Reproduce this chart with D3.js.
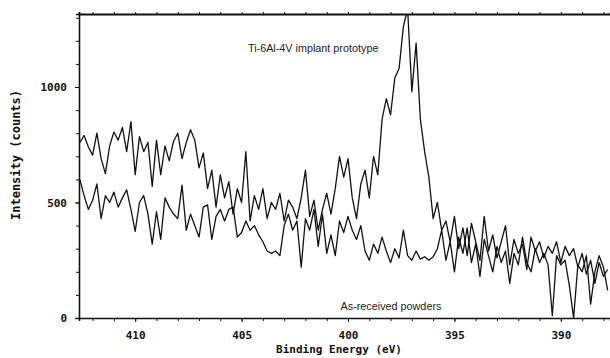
<!DOCTYPE html>
<html>
<head>
<meta charset="utf-8">
<script src="https://cdn.jsdelivr.net/npm/d3@7"></script>
<style>
  body { margin: 0; background: #fff; }
  svg { display: block; }
</style>
</head>
<body>
<div id="viz"></div>
<script>
// binding energy channels: 412.6 eV down to 387.8 eV, 0.2 eV apart
const energyStart = 412.6;
const energyStep = 0.2;

// Ti-6Al-4V implant prototype (counts)
const implantCounts = [
  760, 790, 740, 705, 800, 690, 625, 745, 805, 770, 825, 720, 850, 620, 785, 720,
  760, 570, 770, 620, 745, 680, 765, 800, 690, 760, 815, 770, 650, 715, 560, 640,
  480, 620, 520, 590, 450, 560, 500, 720, 420, 530, 470, 560, 430, 500, 470, 540,
  420, 510, 480, 430, 520, 640, 440, 510, 380, 470, 540, 450, 560, 700, 610, 690,
  520, 430, 580, 640, 520, 700, 620, 860, 950, 880, 1040, 1080, 1260, 1340, 980, 1190,
  860, 720, 610, 430, 500, 380, 420, 330, 440, 300, 390, 270, 410, 330, 250, 440,
  290, 360, 260, 330, 400, 230, 340, 280, 320, 210, 350, 290, 330, 260, 310, 280,
  330, 240, 310, 270, 300, 220, 280, 190, 250, 150, 240, 180, 210
];

// As-received powders (counts)
const powderCounts = [
  600, 530, 470, 510, 580, 430, 530, 500, 545, 480, 520, 555, 470, 375, 500, 530,
  450, 320, 460, 340, 520, 480, 450, 430, 575, 380, 450, 400, 350, 480, 490, 340,
  440, 470, 420, 470, 480, 350, 370, 420, 380, 400, 360, 330, 290, 280, 290, 270,
  400, 450, 380, 420, 220, 430, 380, 470, 310, 450, 280, 360, 270, 420, 370, 440,
  380, 340, 400, 290, 250, 320, 280, 350, 290, 240, 300, 260, 380, 270, 250, 290,
  255, 265, 250, 265, 300, 380, 250, 330, 200, 350, 280, 390, 240, 320, 180, 340,
  270, 200, 310, 240, 290, 150, 280, 230, 350, 240, 200, 300, 240, 280, 230, 10,
  270, 230, 250, 140, 0, 230, 200, 270, 60, 200, 270, 220, 120
];

const xTicks = [410, 405, 400, 395, 390];
const yTicks = [0, 500, 1000];

const labels = [
  { text: "Ti-6Al-4V implant prototype", e: 404.7, v: 1150 },
  { text: "As-received powders", e: 400.35, v: 35 }
];

const width = 610, height = 358;
const margin = { top: 14, right: 0, bottom: 40, left: 79 };

const svg = d3.select("#viz")
  .append("svg")
  .attr("width", width)
  .attr("height", height);

// x is reversed: high binding energy on the left
const x = d3.scaleLinear()
  .domain([412.64, 387.69])
  .range([margin.left, width - margin.right]);

const y = d3.scaleLinear()
  .domain([0, 1316])
  .range([height - margin.bottom, margin.top]);

const energies = implantCounts.map((_, i) => +(energyStart - i * energyStep).toFixed(1));

svg.append("clipPath").attr("id", "plot-clip")
  .append("rect")
  .attr("x", margin.left)
  .attr("y", margin.top)
  .attr("width", width - margin.left - margin.right)
  .attr("height", height - margin.top - margin.bottom);

const line = d3.line()
  .x((d, i) => x(energies[i]))
  .y(d => y(d));

const plot = svg.append("g").attr("clip-path", "url(#plot-clip)");

[implantCounts, powderCounts].forEach(series => {
  plot.append("path")
    .datum(series)
    .attr("fill", "none")
    .attr("stroke", "#111")
    .attr("stroke-width", 1.3)
    .attr("stroke-linejoin", "round")
    .attr("d", line);
});

// minor ticks every 1 eV, and every 100 counts
const xMinor = d3.range(388, 413, 1);
const yMinor = d3.range(0, 1301, 100);

// bottom axis
const xAxis = svg.append("g")
  .attr("transform", `translate(0,${y(0)})`)
  .call(d3.axisBottom(x).tickValues(xMinor).tickSize(3).tickFormat(""));
xAxis.select(".domain").attr("stroke-width", 1.6);
xAxis.selectAll(".tick line").attr("stroke-width", 1);

svg.append("g")
  .attr("transform", `translate(0,${y(0)})`)
  .call(d3.axisBottom(x).tickValues(xTicks).tickSize(4).tickPadding(9).tickFormat(d3.format("d")))
  .call(g => g.select(".domain").remove())
  .call(g => g.selectAll("text")
    .attr("font-family", "DejaVu Sans Mono")
    .attr("font-weight", "bold")
    .attr("font-size", 11)
    .attr("fill", "#111"));

// top frame line with small ticks
const topAxis = svg.append("g")
  .attr("transform", `translate(0,${margin.top})`)
  .call(d3.axisTop(x).tickValues(xMinor).tickSize(2).tickFormat(""));
topAxis.select(".domain").attr("stroke-width", 1.8);

// left axis
const yAxis = svg.append("g")
  .attr("transform", `translate(${margin.left},0)`)
  .call(d3.axisLeft(y).tickValues(yMinor).tickSize(3).tickFormat(""));
yAxis.select(".domain").attr("stroke-width", 1.6);

svg.append("g")
  .attr("transform", `translate(${margin.left},0)`)
  .call(d3.axisLeft(y).tickValues(yTicks).tickSize(4).tickPadding(8).tickFormat(d3.format("d")))
  .call(g => g.select(".domain").remove())
  .call(g => g.selectAll("text")
    .attr("font-family", "DejaVu Sans Mono")
    .attr("font-weight", "bold")
    .attr("font-size", 11)
    .attr("fill", "#111"));

svg.selectAll(".domain").attr("stroke", "#111");
svg.selectAll(".tick line").attr("stroke", "#111");

// axis titles
svg.append("text")
  .attr("x", 339)
  .attr("y", 353)
  .attr("text-anchor", "middle")
  .attr("font-family", "DejaVu Sans Mono")
  .attr("font-weight", "bold")
  .attr("font-size", 11)
  .attr("fill", "#111")
  .text("Binding Energy (eV)");

svg.append("text")
  .attr("transform", "translate(20,155) rotate(-90)")
  .attr("text-anchor", "middle")
  .attr("font-family", "DejaVu Sans Mono")
  .attr("font-weight", "bold")
  .attr("font-size", 12)
  .attr("fill", "#111")
  .text("Intensity (counts)");

// series annotations
svg.selectAll(".series-label")
  .data(labels)
  .join("text")
  .attr("class", "series-label")
  .attr("x", d => x(d.e))
  .attr("y", d => y(d.v))
  .attr("font-family", "Liberation Sans")
  .attr("font-size", 10.8)
  .attr("fill", "#222")
  .text(d => d.text);
</script>
</body>
</html>
